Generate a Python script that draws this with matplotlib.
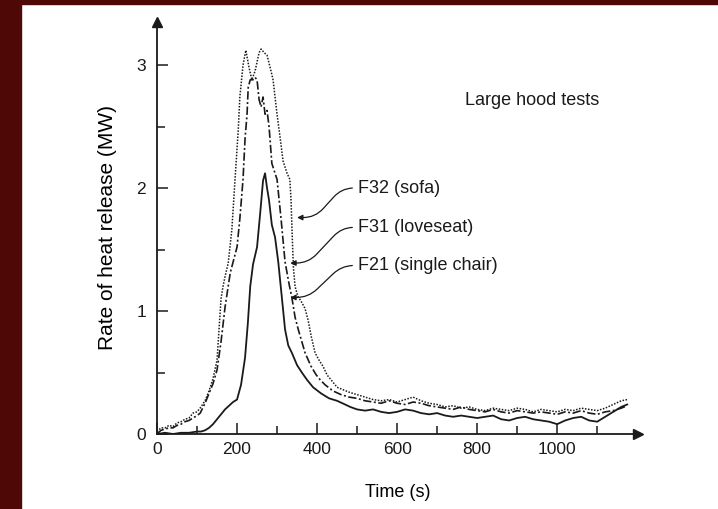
import matplotlib.pyplot as plt
from matplotlib.patches import Rectangle

plt.rcParams['font.family'] = ['Liberation Sans', 'DejaVu Sans']

# F32 (sofa) - dotted curve
sofa_t = [0, 10, 20, 30, 40, 50, 60, 70, 80, 90, 100, 110, 120, 130, 140, 150,
          160, 165, 170, 178, 187, 195, 203, 207, 215, 222, 230, 237, 245, 255,
          260, 268, 275, 285, 290, 300, 310, 315, 325, 332, 335, 338, 341, 345,
          352, 360, 370, 378, 385, 395, 405, 415, 425, 440, 450, 465, 480, 500,
          520, 540, 560, 580, 600, 620, 640, 660, 680, 700, 720, 740, 760, 780,
          800, 820, 840, 860, 880, 900, 920, 940, 960, 980, 1000, 1020, 1040,
          1060, 1080, 1100, 1120, 1140, 1160, 1175]
sofa_q = [0.02, 0.05, 0.05, 0.07, 0.06, 0.09, 0.10, 0.12, 0.13, 0.17, 0.18, 0.22,
          0.27, 0.35, 0.45, 0.60, 1.10, 1.20, 1.28, 1.39, 1.66, 2.07, 2.47, 2.74,
          3.00, 3.12, 2.98, 2.88, 2.95, 3.10, 3.13, 3.10, 3.08, 2.95, 2.88, 2.60,
          2.35, 2.22, 2.12, 2.07, 1.90, 1.60, 1.35, 1.20, 1.12, 1.08, 1.02, 0.92,
          0.80, 0.66, 0.60, 0.55, 0.48, 0.42, 0.38, 0.36, 0.34, 0.32, 0.30, 0.28,
          0.27, 0.28, 0.26, 0.28, 0.30, 0.27, 0.25, 0.24, 0.22, 0.23, 0.21, 0.22,
          0.20, 0.19, 0.21, 0.20, 0.19, 0.21, 0.20, 0.18, 0.20, 0.19, 0.18, 0.20,
          0.19, 0.21, 0.20, 0.19, 0.21, 0.24, 0.27, 0.28]

# F31 (loveseat) - dash-dot curve
love_t = [0, 10, 20, 30, 40, 50, 60, 70, 80, 90, 100, 108, 120, 130, 140, 150,
          160, 170, 183, 200, 207, 215, 220, 225, 228, 233, 240, 245, 250, 255,
          260, 265, 270, 275, 280, 287, 295, 300, 310, 320, 330, 337, 345, 353,
          362, 370, 385, 398, 408, 420, 440, 460, 480, 500, 520, 540, 560, 580,
          600, 620, 640, 660, 680, 700, 720, 740, 760, 780, 800, 820, 840, 860,
          880, 900, 920, 940, 960, 980, 1000, 1020, 1040, 1060, 1080, 1100, 1120,
          1140, 1160, 1175]
love_q = [0.00, 0.03, 0.04, 0.05, 0.05, 0.07, 0.08, 0.10, 0.11, 0.13, 0.15, 0.17,
          0.25, 0.33, 0.41, 0.52, 0.75, 1.03, 1.31, 1.52, 1.75, 2.07, 2.40, 2.60,
          2.82, 2.88, 2.88, 2.90, 2.88, 2.72, 2.66, 2.74, 2.60, 2.63, 2.50, 2.20,
          2.12, 2.07, 1.75, 1.40, 1.22, 1.11, 0.95, 0.85, 0.75, 0.66, 0.55, 0.48,
          0.44, 0.40, 0.35, 0.32, 0.30, 0.29, 0.27, 0.26, 0.25, 0.27, 0.25, 0.24,
          0.26, 0.25, 0.23, 0.22, 0.21, 0.20, 0.22, 0.20, 0.19, 0.18, 0.20, 0.18,
          0.17, 0.19, 0.18, 0.17, 0.18, 0.17, 0.16, 0.18, 0.17, 0.19, 0.17, 0.16,
          0.18, 0.19, 0.21, 0.23]

# F21 (single chair) - solid curve
chair_t = [0, 20, 40, 60, 80, 100, 110, 120, 130, 140, 150, 160, 170, 180, 190,
           200, 210, 220, 227, 233, 240, 250, 258, 265, 270, 275, 280, 287, 295,
           303, 312, 320, 328, 337, 350, 362, 375, 390, 410, 430, 450, 470, 483,
           500, 520, 540, 560, 580, 600, 620, 640, 660, 680, 700, 720, 740, 760,
           780, 800, 820, 840, 860, 880, 900, 920, 940, 960, 980, 1000, 1020,
           1040, 1060, 1080, 1100, 1120, 1140, 1160, 1175]
chair_q = [0.00, 0.01, 0.00, 0.01, 0.01, 0.02, 0.02, 0.03, 0.05, 0.08, 0.12, 0.16,
           0.20, 0.23, 0.26, 0.28, 0.40, 0.62, 0.90, 1.20, 1.38, 1.52, 1.80, 2.06,
           2.12, 2.00, 1.90, 1.70, 1.60, 1.40, 1.11, 0.85, 0.72, 0.66, 0.56, 0.50,
           0.44, 0.38, 0.33, 0.29, 0.27, 0.24, 0.22, 0.20, 0.19, 0.20, 0.18, 0.17,
           0.18, 0.20, 0.19, 0.17, 0.16, 0.17, 0.15, 0.14, 0.15, 0.14, 0.13, 0.14,
           0.15, 0.12, 0.11, 0.13, 0.14, 0.12, 0.11, 0.10, 0.08, 0.11, 0.13, 0.14,
           0.11, 0.10, 0.14, 0.18, 0.22, 0.24]

labels = ['F32 (sofa)', 'F31 (loveseat)', 'F21 (single chair)']
label_pos = [(502, 2.00), (502, 1.68), (502, 1.37)]
arrow_tip = [(350, 1.76), (333, 1.39), (333, 1.11)]

fig = plt.figure(figsize=(7.18, 5.09), dpi=100)
fig.patches.append(Rectangle((0, 0), 21 / 718, 1, transform=fig.transFigure,
                             color='#4e0906', zorder=0))
fig.patches.append(Rectangle((0, 1 - 4 / 509), 1, 4 / 509, transform=fig.transFigure,
                             color='#4e0906', zorder=0))

ax = fig.add_axes([157 / 718, 75 / 509, (638 - 157) / 718, (434 - 22) / 509])
ink = '#1a1a1a'

ax.plot(sofa_t, sofa_q, color=ink, lw=1.1, linestyle=(0, (1, 1)))
ax.plot(love_t, love_q, color=ink, lw=1.2, linestyle=(0, (5, 1.5, 1.2, 1.5)))
ax.plot(chair_t, chair_q, color=ink, lw=1.3)

ax.set_xlim(0, 1202)
ax.set_ylim(0, 3.35)
ax.set_xticks([0, 200, 400, 600, 800, 1000])
ax.set_xticks(range(100, 1200, 200), minor=True)
ax.set_yticks([0, 1, 2, 3])
ax.set_yticks([0.5, 1.5, 2.5], minor=True)
ax.tick_params(which='both', direction='in', width=1.1, colors=ink, labelsize=12.5)
ax.tick_params(which='major', length=8)
ax.tick_params(which='minor', length=6)
ax.tick_params(axis='y', pad=8)
ax.tick_params(axis='x', pad=6)

for side in ['top', 'right']:
    ax.spines[side].set_visible(False)
for side in ['left', 'bottom']:
    ax.spines[side].set_linewidth(1.3)
    ax.spines[side].set_color(ink)

# arrow heads on axes
ax.plot(1, 0, '>', color=ink, ms=7, transform=ax.get_yaxis_transform(), clip_on=False)
ax.plot(0, 1, '^', color=ink, ms=7, transform=ax.get_xaxis_transform(), clip_on=False)

ax.set_xlabel('Time (s)', fontsize=13, labelpad=19)
ax.set_ylabel('Rate of heat release (MW)', fontsize=15, labelpad=14)

ax.text(770, 2.71, 'Large hood tests', fontsize=13, va='center', ha='left', color=ink)

for lab, pos, tip in zip(labels, label_pos, arrow_tip):
    ax.annotate(lab, xy=tip, xytext=pos, fontsize=13, va='center', ha='left', color=ink,
                arrowprops=dict(arrowstyle='-|>', color=ink, lw=0.9, mutation_scale=8,
                                shrinkA=2, shrinkB=0, relpos=(0, 0.5),
                                connectionstyle='arc,angleA=180,angleB=0,armA=16,armB=18,rad=12'))

fig.savefig('out.png', dpi=100)
